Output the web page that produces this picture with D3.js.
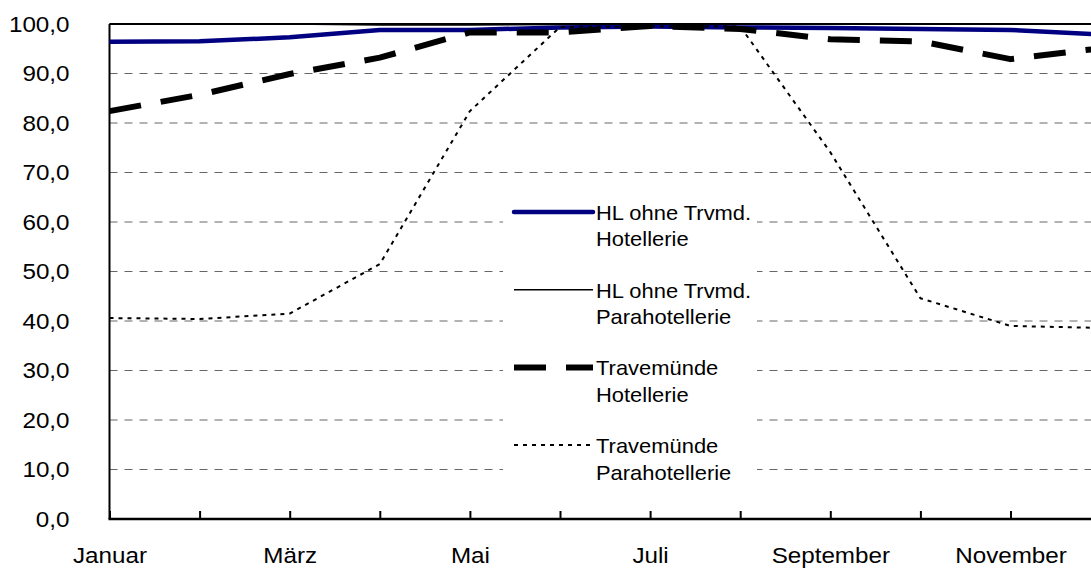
<!DOCTYPE html>
<html><head><meta charset="utf-8">
<script src="https://cdn.jsdelivr.net/npm/d3@7"></script>
<style>
html,body{margin:0;padding:0;background:#fff;overflow:hidden}
svg{display:block;font-family:"Liberation Sans",Arial,sans-serif}
</style></head>
<body>
<svg id="chart" width="1091" height="570"></svg>
<script>
const months = ["Januar","Februar","März","April","Mai","Juni","Juli","August","September","Oktober","November","Dezember"];
const yTicks = [0,10,20,30,40,50,60,70,80,90,100];
const hlHotel   = [96.4,96.5,97.3,98.8,98.8,99.3,99.5,99.3,99.2,99.0,98.8,97.9];
const hlPara    = [100,100,100,99.8,99.8,99.9,100,100,100,100,100,100];
const trvHotel  = [82.4,85.7,89.9,93.2,98.3,98.3,99.6,99.0,96.9,96.5,92.9,95.1];
const trvPara   = [40.6,40.4,41.5,51.5,82.4,99.4,99.5,99.5,74.1,44.6,39.0,38.6];
const seriesNames = [["HL ohne Trvmd.","Hotellerie"],["HL ohne Trvmd.","Parahotellerie"],["Travemünde","Hotellerie"],["Travemünde","Parahotellerie"]];

const svg = d3.select("#chart");
const x = d3.scalePoint().domain(months).range([109.5, 1100.6]);
const y = d3.scaleLinear().domain([0,100]).range([519, 24]);
const xLeft = 109.5, xRight = 1101;
const FONT = "'Liberation Sans',Arial,sans-serif";

// gridlines
svg.append("g").selectAll("line").data(yTicks.filter(d => d > 0 && d < 100)).join("line")
  .attr("x1", xLeft).attr("x2", xRight)
  .attr("y1", d => y(d)).attr("y2", d => y(d))
  .attr("stroke", "#666").attr("stroke-width", 1).attr("stroke-dasharray", "8,7");

// top border
svg.append("line").attr("x1", xLeft).attr("x2", xRight).attr("y1", y(100)).attr("y2", y(100))
  .attr("stroke", "#000").attr("stroke-width", 2);

// y axis labels
const yAxis = d3.axisLeft(y).tickValues(yTicks).tickSize(0).tickPadding(0)
  .tickFormat(d => d.toFixed(1).replace(".", ","));
const gy = svg.append("g").attr("transform", `translate(${xLeft},0)`).call(yAxis);
gy.select(".domain").remove();
gy.selectAll("text").attr("font-size", 22).attr("fill", "#000").attr("font-family", FONT)
  .attr("x", 0).attr("transform", "translate(-40,0) scale(1.1,1)");

// x axis
const xAxis = d3.axisBottom(x).tickSizeInner(-8).tickSizeOuter(0).tickPadding(0)
  .tickFormat((d, i) => i % 2 === 0 ? d : "");
const gx = svg.append("g").attr("transform", `translate(0,${y(0)})`).call(xAxis);
gx.select(".domain").remove();
gx.selectAll("line").attr("stroke", "#000").attr("stroke-width", 2);
gx.selectAll("text").attr("font-size", 22).attr("fill", "#000").attr("y", 0).attr("dy", 0)
  .attr("font-family", FONT).attr("transform", "translate(0,44) scale(1.1,1)");

// axis lines
svg.append("line").attr("x1", xLeft).attr("x2", xLeft).attr("y1", y(100)).attr("y2", y(0))
  .attr("stroke", "#000").attr("stroke-width", 2);
svg.append("line").attr("x1", xLeft - 1).attr("x2", xRight).attr("y1", y(0)).attr("y2", y(0))
  .attr("stroke", "#000").attr("stroke-width", 2.5);

const line = d3.line().x((d, i) => x(months[i])).y(d => y(d));
const styles = [
  {data: hlHotel, stroke: "#000080", width: 4.5, dash: null},
  {data: hlPara, stroke: "#000", width: 1.5, dash: null},
  {data: trvHotel, stroke: "#000", width: 6, dash: "32,20"},
  {data: trvPara, stroke: "#000", width: 2, dash: "4,5"}
];
styles.forEach(s => {
  svg.append("path").datum(s.data).attr("d", line)
    .attr("fill", "none").attr("stroke", s.stroke).attr("stroke-width", s.width)
    .attr("stroke-dasharray", s.dash).attr("stroke-linejoin", "round");
});

// legend
const lg = svg.append("g");
lg.append("rect").attr("x", 503).attr("y", 188).attr("width", 254).attr("height", 297).attr("fill", "#fff");
styles.forEach((s, i) => {
  const ly = 212 + i * 77.7;
  lg.append("line").attr("x1", 514).attr("x2", 593).attr("y1", ly).attr("y2", ly)
    .attr("stroke", s.stroke).attr("stroke-width", s.width).attr("stroke-dasharray", s.dash)
    .attr("stroke-linecap", i === 0 ? "round" : "butt");
  const t = lg.append("text").attr("x", 0).attr("y", 0).attr("font-size", 20.5).attr("fill", "#000")
    .attr("font-family", FONT)
    .attr("transform", `translate(596,${ly + 8}) scale(1.07,1)`);
  t.append("tspan").attr("x", 0).text(seriesNames[i][0]);
  t.append("tspan").attr("x", 0).attr("dy", 26.5).text(seriesNames[i][1]);
});
</script>
</body></html>
